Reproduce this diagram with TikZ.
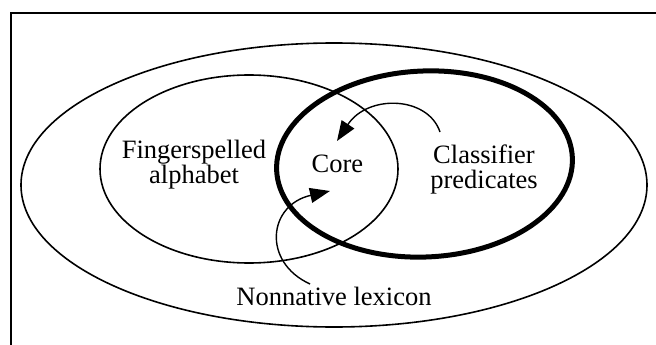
\documentclass[tikz,border=0pt]{standalone}
\usepackage{fontspec}
\setmainfont{Liberation Serif}
\usetikzlibrary{arrows.meta}
\tikzset{
  thinring/.style={line width=1.6pt},
  thickring/.style={line width=5pt},
  label/.style={font=\fontsize{26.5}{25}\selectfont, inner sep=0pt, align=center},
  flow/.style={line width=1.4pt, -{Triangle[length=20pt,width=15pt]}},
}
\begin{document}
\begin{tikzpicture}[x=1pt,y=-1pt]
\useasboundingbox (0,0) rectangle (656,345);
\fill[white] (0,0) rectangle (656,345);
% frame
\draw[line width=2pt] (10.8,346) -- (10.8,13.3) -- (657,13.3);
% outer ellipse
\draw[thinring] (334,185) ellipse [x radius=313pt, y radius=142pt];
% fingerspelled ellipse
\draw[thinring] (249,169) ellipse [x radius=149pt, y radius=94pt];
% classifier ellipse
\draw[thickring, rotate around={2.5:(424.5,164)}] (424.5,164) ellipse [x radius=148pt, y radius=93pt];
% labels
\node[label, anchor=base] (fing) at (194,183) {Fingerspelled\\alphabet};
\node[label, anchor=base] (core) at (337.5,172) {Core};
\node[label, anchor=base] (clas) at (484,188) {Classifier\\predicates};
\node[label, anchor=base] (nonn) at (334,305) {Nonnative lexicon};
% arrows
\coordinate (s1) at (440,132);
\coordinate (e1) at (337,141);
\coordinate (s2) at (310,284);
\coordinate (e2) at (330,191);
\draw[flow] (s1) .. controls (428,96) and (368,94) .. (e1);
\draw[flow] (s2) .. controls (262,262) and (268,205) .. (e2);
\end{tikzpicture}
\end{document}
